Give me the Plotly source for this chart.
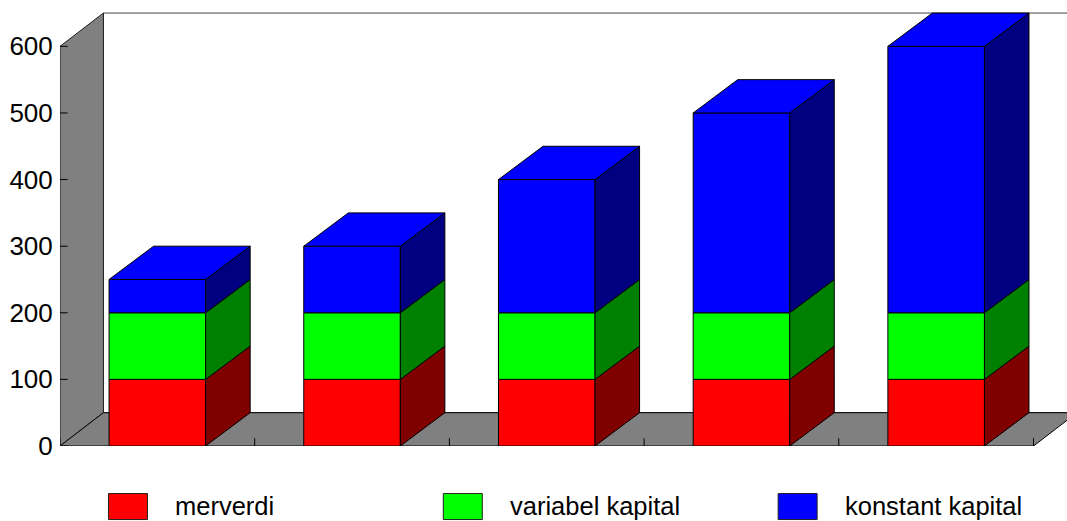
import plotly.graph_objects as go

# --- data ---
positions = [0, 1, 2, 3, 4]
merverdi = [100, 100, 100, 100, 100]
variabel_kapital = [100, 100, 100, 100, 100]
konstant_kapital = [50, 100, 200, 300, 400]
y_ticks = [0, 100, 200, 300, 400, 500, 600]
x_ticks = [0, 1, 2, 3, 4, 5]

# --- style ---
W, H = 1067, 521
ML, MB = 59.5, 74.6
UNIT_X = 194.8
X_MAX = (W - ML) / UNIT_X
Y_MAX = (H - MB) * 600 / 400
BAR_L, BAR_R = 0.252, 0.748
DX, DY = 0.2287, 50
WALL_DX = 0.223
WALL = "#808080"
EDGE = "#000000"
FONT = "Liberation Sans, Arial, sans-serif"


def polys(pts_list):
    xs, ys = [], []
    for pts in pts_list:
        for x, y in pts:
            xs.append(x)
            ys.append(y)
        xs.append(pts[0][0])
        ys.append(pts[0][1])
        xs.append(None)
        ys.append(None)
    return xs, ys


def area(pts_list, color, name, line=EDGE):
    xs, ys = polys(pts_list)
    return go.Scatter(x=xs, y=ys, mode="lines", fill="toself", fillcolor=color,
                      line=dict(color=line, width=1), name=name,
                      showlegend=False, hoverinfo="skip")


fig = go.Figure()

# back plane, left wall and floor of the 3D box
fig.add_trace(area([[(WALL_DX, DY), (WALL_DX, 600 + DY), (X_MAX + 1, 600 + DY), (X_MAX + 1, DY)]], "#ffffff", "back", "#404040"))
fig.add_trace(area([[(0, 0), (WALL_DX, DY), (WALL_DX, 600 + DY), (0, 600)]], WALL, "wall", "#202020"))
fig.add_trace(area([[(0, 0), (WALL_DX, DY), (5 + WALL_DX, DY), (5, 0)]], WALL, "floor"))

series = [
    ("merverdi", merverdi, "#ff0000", "#800000"),
    ("variabel kapital", variabel_kapital, "#00ff00", "#008000"),
    ("konstant kapital", konstant_kapital, "#0000ff", "#000080"),
]

for i, p in enumerate(positions):
    base = 0
    for name, vals, front, side in series:
        top = base + vals[i]
        l, r = p + BAR_L, p + BAR_R
        fig.add_trace(area([[(l, base), (r, base), (r, top), (l, top)]], front, name))
        fig.add_trace(area([[(r, base), (r + DX, base + DY), (r + DX, top + DY), (r, top)]], side, name))
        if name == "konstant kapital":
            fig.add_trace(area([[(l, top), (l + DX, top + DY), (r + DX, top + DY), (r, top)]], front, name))
        base = top

# crossing tick marks
fig.add_trace(go.Scatter(x=[0] * len(y_ticks), y=y_ticks, mode="markers", showlegend=False, hoverinfo="skip",
                         marker=dict(symbol="line-ew", size=11, line=dict(color=EDGE, width=1))))
fig.add_trace(go.Scatter(x=x_ticks, y=[0] * len(x_ticks), mode="markers", showlegend=False, hoverinfo="skip",
                         marker=dict(symbol="line-ns", size=11, line=dict(color=EDGE, width=1))))

# legend drawn beneath the plot
legend_px = [(108, "merverdi", 175, "#ff0000"),
             (443, "variabel kapital", 510, "#00ff00"),
             (778, "konstant kapital", 845, "#0000ff")]
plot_w, plot_h = W - ML, H - MB
shapes, annotations = [], []
for sx, label, tx, color in legend_px:
    shapes.append(dict(type="rect", xref="paper", yref="paper",
                       x0=(sx - ML) / plot_w, x1=(sx + 39 - ML) / plot_w,
                       y0=(plot_h - 520) / plot_h, y1=(plot_h - 494) / plot_h,
                       fillcolor=color, line=dict(color="#202020", width=1)))
    annotations.append(dict(xref="paper", yref="paper", x=(tx - ML) / plot_w, y=(plot_h - 506) / plot_h,
                            text=label, showarrow=False, xanchor="left", yanchor="middle", xshift=-2,
                            font=dict(family=FONT, size=25.5, color="#000000")))

fig.update_layout(
    width=W, height=H, autosize=False,
    margin=dict(l=ML, r=0, t=0, b=MB, pad=0),
    paper_bgcolor="#ffffff", plot_bgcolor="#ffffff",
    showlegend=False, shapes=shapes, annotations=annotations,
    font=dict(family=FONT, color="#000000"),
    xaxis=dict(range=[0, X_MAX], showgrid=False, zeroline=False, showline=False,
               tickvals=x_ticks, ticktext=[""] * len(x_ticks), ticks="", fixedrange=True),
    yaxis=dict(range=[0, Y_MAX], showgrid=False, zeroline=False, showline=False,
               tickvals=y_ticks, ticks="outside", ticklen=1, tickcolor="rgba(0,0,0,0)", tickfont=dict(size=26, family=FONT),
               fixedrange=True),
)
fig.write_html("out.html", config=dict(displayModeBar=False),
               post_script="document.body.style.margin='0';document.body.style.overflow='hidden';")
